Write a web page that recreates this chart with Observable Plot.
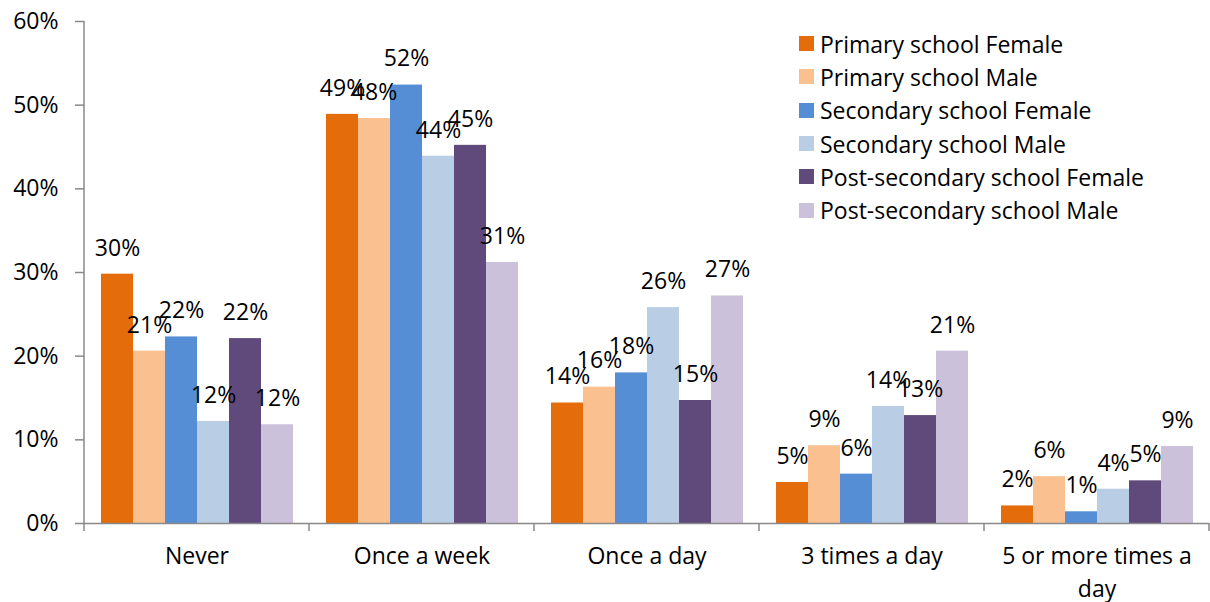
<!DOCTYPE html>
<html>
<head>
<meta charset="utf-8">
<script src="https://cdn.jsdelivr.net/npm/d3@7"></script>
<script src="https://cdn.jsdelivr.net/npm/@observablehq/plot@0.6"></script>
<style>
  html, body { margin: 0; padding: 0; background: #fff; }
  #wrap { position: relative; width: 1210px; height: 602px; font-family: "Open Sans", sans-serif; }
  #legend { position: absolute; left: 799px; top: 27px; font-size: 23px; color: #000; }
  .row { display: flex; align-items: center; height: 33.3px; white-space: nowrap; }
  .sw { width: 15px; height: 15px; margin-right: 6px; flex: none; }
</style>
</head>
<body>
<div id="wrap"><div id="legend"></div></div>
<script>
const categories = ["Never", "Once a week", "Once a day", "3 times a day", "5 or more times a day"];
const series = ["Primary school Female", "Primary school Male", "Secondary school Female", "Secondary school Male", "Post-secondary school Female", "Post-secondary school Male"];
const colors = ["#E46C0A", "#FAC090", "#558ED5", "#B9CDE5", "#604A7B", "#CCC1DA"];
// values in percent, per series, in category order
const primaryFemale = [29.8, 48.9, 14.4, 4.9, 2.1];
const primaryMale = [20.6, 48.4, 16.3, 9.3, 5.6];
const secondaryFemale = [22.3, 52.4, 18.0, 5.9, 1.4];
const secondaryMale = [12.2, 43.9, 25.8, 14.0, 4.1];
const postFemale = [22.1, 45.2, 14.7, 12.9, 5.1];
const postMale = [11.8, 31.2, 27.2, 20.6, 9.2];
const yTicks = [0, 10, 20, 30, 40, 50, 60];

const seriesValues = [primaryFemale, primaryMale, secondaryFemale, secondaryMale, postFemale, postMale];
const data = [];
categories.forEach((c, ci) => series.forEach((s, si) => data.push({cat: c, series: s, value: seriesValues[si][ci]})));

const gray = "#898989";
const fs = 23;
const plot = Plot.plot({
  width: 1210,
  height: 602,
  marginLeft: 82,
  marginRight: 0,
  marginTop: 21,
  marginBottom: 79,
  style: {fontFamily: "Open Sans, sans-serif", fontSize: fs + "px", color: "#000", background: "transparent"},
  fx: {domain: categories, padding: 0, label: null},
  x: {domain: series, paddingInner: 0, paddingOuter: 0.49, axis: null},
  y: {domain: [0, 60], label: null},
  color: {domain: series, range: colors},
  marks: [
    Plot.axisY({ticks: yTicks, tickSize: 9, tickPadding: 17, tickFormat: d => d + "%", stroke: gray, strokeWidth: 1.5, fill: "#000", fontSize: fs, label: null}),
    Plot.axisFx({anchor: "bottom", tickSize: 0, tickPadding: 17, lineWidth: 8.5, lineHeight: 1.43, fontSize: fs, fill: "#000", label: null}),
    Plot.barY(data, {fx: "cat", x: "series", y: "value", fill: "series"}),
    Plot.ruleY([0], {stroke: gray, strokeWidth: 1.5}),
    Plot.text(data, {fx: "cat", x: "series", y: "value", text: d => d3.format(".0f")(d.value) + "%", dy: -26, fontSize: fs, fill: "#000"})
  ]
});

// y-axis line and category boundary ticks drawn from the plot's own scales
const fx = plot.scale("fx");
const y = plot.scale("y");
const svg = d3.select(plot);
const g = svg.append("g").attr("stroke", gray).attr("stroke-width", 1.5);
const x0 = fx.apply(categories[0]);
g.append("line").attr("x1", x0).attr("x2", x0).attr("y1", y.apply(0)).attr("y2", y.apply(60));
const bounds = categories.map(c => fx.apply(c)).concat([fx.apply(categories[categories.length - 1]) + fx.bandwidth]);
bounds.forEach(b => g.append("line").attr("x1", b).attr("x2", b).attr("y1", y.apply(0)).attr("y2", y.apply(0) + 8));

document.getElementById("wrap").prepend(plot);

const legend = d3.select("#legend");
series.forEach((s, i) => {
  const row = legend.append("div").attr("class", "row");
  row.append("div").attr("class", "sw").style("background", colors[i]);
  row.append("span").text(s);
});
</script>
</body>
</html>
